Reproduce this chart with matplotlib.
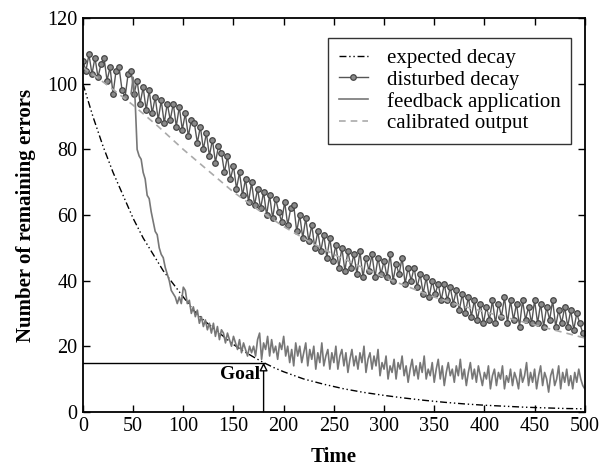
import numpy as np
import matplotlib
matplotlib.use("Agg")
import matplotlib.pyplot as plt

# ============================================
# Data
# ============================================

# expected decay (smooth curve, sampled)
exp_x = [0, 10, 20, 30, 40, 50, 60, 70, 80, 90, 100, 110, 120, 130, 140, 150,
         160, 170, 180, 190, 200, 220, 240, 260, 280, 300, 320, 340, 360, 380,
         400, 420, 440, 460, 480, 500]
exp_y = [100, 90, 81, 73, 66, 59, 53, 48, 43, 39, 35, 31, 28, 25.5, 23, 20.5,
         18.5, 16.7, 15, 13.5, 12.2, 10, 8.4, 7, 5.9, 5, 4.2, 3.5, 2.9, 2.4,
         2.0, 1.7, 1.4, 1.2, 1.0, 0.9]

# disturbed decay, every 3 time units from 0 to 498
dist_x = np.arange(0, 499, 3)
dist_y = [107, 104, 109, 103, 108, 102, 106, 108, 101, 105,
          97, 104, 105, 98, 96, 103, 104, 97, 101, 94,
          99, 92, 98, 91, 96, 89, 95, 88, 94, 89,
          94, 87, 93, 86, 91, 84, 89, 88, 82, 87,
          80, 85, 78, 83, 76, 81, 79, 73, 78, 71,
          75, 68, 73, 66, 71, 64, 70, 63, 68, 62,
          67, 60, 66, 59, 65, 61, 58, 64, 57, 62,
          63, 55, 60, 53, 59, 52, 57, 50, 55, 49,
          54, 47, 53, 46, 51, 44, 50, 43, 49, 44,
          48, 42, 49, 41, 47, 43, 48, 41, 47, 42,
          46, 41, 48, 40, 45, 42, 47, 39, 44, 40,
          44, 38, 42, 36, 41, 35, 40, 36, 39, 34,
          39, 34, 38, 33, 37, 31, 36, 30, 35, 29,
          34, 28, 33, 27, 32, 28, 34, 27, 33, 29,
          35, 27, 34, 28, 33, 26, 34, 28, 32, 27,
          34, 27, 33, 26, 32, 28, 34, 26, 31, 27,
          32, 26, 31, 25, 30, 27, 24]

# feedback application, every 2 time units from 48 to 500
fb_x = np.arange(48, 501, 2)
fb_y = [97, 102, 95, 80, 78, 77, 73, 71, 66, 65,
        61, 58, 55, 54, 50, 48, 47, 44, 42, 40,
        37, 36, 35, 33, 35, 33, 38, 37, 33, 34,
        30, 32, 29, 31, 27, 29, 26, 28, 25, 27,
        24, 27, 23, 26, 22, 25, 24, 21, 24, 22,
        20, 23, 21, 19, 22, 18, 21, 19, 17, 20,
        18, 20, 17, 22, 24, 16, 21, 19, 23, 17,
        22, 18, 20, 16, 21, 19, 23, 17, 20, 15,
        19, 14, 21, 17, 20, 15, 18, 21, 14, 19,
        16, 20, 13, 18, 15, 21, 14, 17, 19, 13,
        18, 15, 20, 13, 17, 19, 14, 18, 12, 16,
        19, 14, 17, 13, 18, 15, 20, 12, 16, 18,
        13, 17, 14, 19, 11, 15, 13, 17, 10, 14,
        12, 16, 10, 15, 13, 17, 11, 14, 9, 13,
        16, 11, 14, 10, 15, 12, 17, 10, 13, 11,
        15, 9, 13, 16, 10, 14, 8, 12, 15, 11,
        13, 9, 14, 11, 16, 10, 13, 8, 12, 15,
        10, 13, 9, 14, 11, 8, 12, 10, 14, 7,
        11, 13, 8, 12, 10, 14, 7, 11, 9, 13,
        8, 12, 10, 7, 13, 9, 11, 15, 8, 12,
        9, 13, 7, 11, 14, 8, 12, 10, 6, 11,
        13, 8, 10, 14, 7, 12, 9, 13, 8, 11,
        7, 12, 9, 13, 10, 8, 7]

# calibrated output
cal_x = [0, 25, 50, 75, 100, 125, 150, 175, 200, 225, 250, 275, 300, 325,
         350, 375, 400, 425, 450, 475, 500]
cal_y = [105, 99.5, 93.5, 87, 80, 73.5, 67, 61.5, 56.5, 52, 48, 44.5, 41, 38,
         35, 32.5, 30.5, 28.5, 26.5, 24.5, 22.5]

goal_x = 180
goal_y = 15

# ============================================
# Plot
# ============================================

plt.rcParams['font.family'] = ['Liberation Serif', 'DejaVu Serif']

fig = plt.figure(figsize=(6.01, 4.69), dpi=100)
ax = fig.add_axes([0.138, 0.122, 0.835, 0.839])

ax.plot(exp_x, exp_y, color='black', linestyle=(0, (5, 2, 1, 2, 1, 2)),
        linewidth=1.0, label='expected decay')
ax.plot(dist_x, dist_y, color='#555555', linewidth=1.0, marker='o',
        markersize=4, markerfacecolor='#8a8a8a', markeredgecolor='#454545',
        markeredgewidth=0.9, label='disturbed decay')
ax.plot(fb_x, fb_y, color='#777777', linewidth=1.2, label='feedback application')
ax.plot(cal_x, cal_y, color='#aaaaaa', linestyle=(0, (4, 3)), linewidth=1.2,
        label='calibrated output')

# goal marker
ax.plot([0, goal_x], [goal_y, goal_y], color='black', linewidth=1.0)
ax.annotate('', xy=(goal_x, goal_y), xytext=(goal_x, 0),
            arrowprops=dict(arrowstyle='-|>', color='black', lw=1.0,
                            fc='white', mutation_scale=12, shrinkA=0, shrinkB=0))
ax.text(goal_x - 3, 11.5, 'Goal', ha='right', va='center', fontsize=14,
        fontweight='bold')

ax.set_xlim(0, 500)
ax.set_ylim(0, 120)
ax.set_xticks(np.arange(0, 501, 50))
ax.set_yticks(np.arange(0, 121, 20))
ax.tick_params(direction='in', top=True, right=True, length=5, width=1,
               labelsize=14.5, pad=4)
for s in ax.spines.values():
    s.set_linewidth(1.3)

ax.set_xlabel('Time', fontsize=15, fontweight='bold', labelpad=8)
ax.set_ylabel('Number of remaining errors', fontsize=15, fontweight='bold',
              labelpad=8)

leg = ax.legend(loc='upper right', bbox_to_anchor=(0.972, 0.950), fontsize=15,
                frameon=True, fancybox=False, edgecolor='black',
                handlelength=1.4, handletextpad=0.9, borderpad=0.5,
                labelspacing=0.1, borderaxespad=0)
leg.get_frame().set_linewidth(1.0)

fig.savefig('out.png', dpi=100)
